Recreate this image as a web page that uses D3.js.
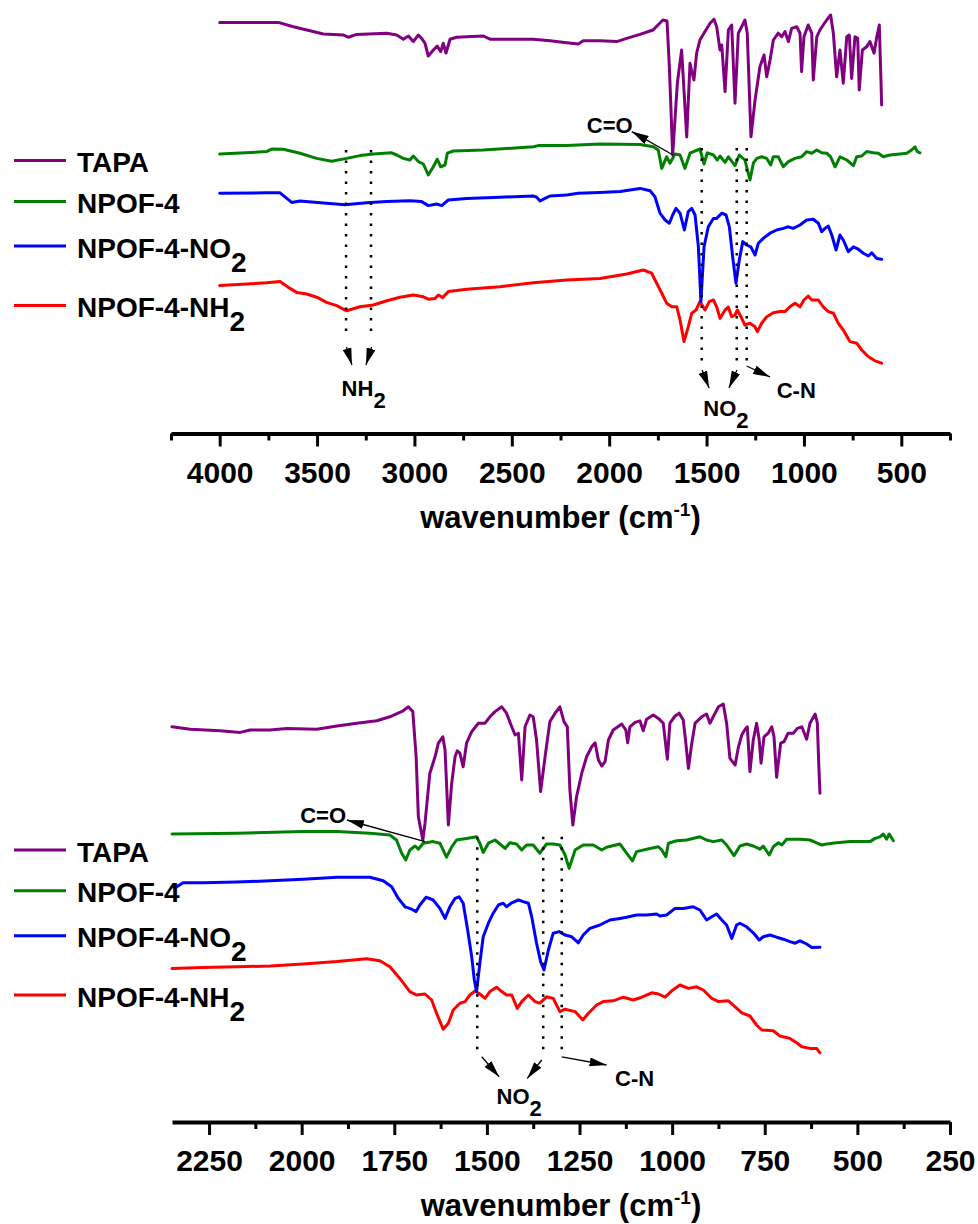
<!DOCTYPE html>
<html><head><meta charset="utf-8">
<script src="https://cdn.jsdelivr.net/npm/d3@7"></script>
<style>
body{margin:0;background:#fff}
svg text{font-family:"Liberation Sans",Arial,Helvetica,sans-serif;font-weight:bold;fill:#000}
</style>
</head><body>
<svg id="chart" width="978" height="1224"></svg>
<script>
// ---------- DATA ----------
const seriesNames = ["TAPA","NPOF-4","NPOF-4-NO","NPOF-4-NH"];
const seriesSubs  = ["","","2","2"];
const seriesColors = ["#800080","#008000","#0000ff","#ff0000"];

const topMajorTicks = [4000,3500,3000,2500,2000,1500,1000,500];
const topMinorTicks = [4250,3750,3250,2750,2250,1750,1250,750,250];
const botMajorTicks = [2250,2000,1750,1500,1250,1000,750,500,250];
const botMinorTicks = [2125,1875,1625,1375,1125,875,625,375];

// [wavenumber (cm-1), transmittance (a.u., offset)]
const topTAPA = [[4000,94.4],[3699,94.4],[3622,93.3],[3536,92.3],[3468,91.5],[3365,91.25],[3340,90.7],[3296,91.4],[3142,91.7],[3091,91.25],[3057,90.2],[3031,91],[3006,89.6],[2980,91.25],[2963,90.4],[2946,89.2],[2929,86],[2903,87.5],[2883,88.5],[2865,87.1],[2852,89.2],[2838,86.75],[2817,90.2],[2783,90.7],[2732,90.8],[2646,91],[2612,90.2],[2526,90.2],[2390,90.2],[2304,89.8],[2218,89.3],[2159,89],[2133,89.8],[2047,89.8],[1961,89.6],[1910,90.4],[1842,91.4],[1775,92.5],[1724,95],[1703,94.75],[1691,83.3],[1674,61.25],[1650,79.2],[1628,87.5],[1602,65.75],[1585,84.2],[1576,82.1],[1565,80],[1551,86.7],[1534,90],[1508,92.1],[1482,94.2],[1462,95.2],[1448,93.3],[1431,87.5],[1422,88.75],[1405,77.1],[1388,92.5],[1371,93.75],[1354,74.2],[1337,91.7],[1320,93.3],[1303,95],[1291,91.7],[1272,65.8],[1251,75],[1226,83.3],[1205,86.25],[1191,80.8],[1174,85],[1157,90],[1132,91.7],[1114,90.8],[1097,92.1],[1080,89.6],[1063,92.9],[1037,93.3],[1020,91.7],[1012,82.1],[1000,90.8],[978,93.75],[960,91.7],[952,80],[934,90.8],[918,92.5],[901,93.75],[883,95],[863,96.25],[849,91.7],[832,80.8],[815,87.5],[798,79.2],[780,90.8],[767,91.25],[755,80.4],[738,90.8],[724,90.4],[716,77.5],[700,87.5],[678,88.3],[661,89.6],[640,86.7],[626,90.8],[613,93.75],[605,80.8],[601,73.75]];
const topNPOF4 = [[4000,61.5],[3759,62.1],[3733,62.75],[3673,62.7],[3588,61.7],[3502,60.4],[3425,59.7],[3348,60.4],[3280,61.1],[3211,61.5],[3117,61.8],[3091,61.25],[3057,60.4],[3023,60],[3006,61],[2980,59.6],[2954,59],[2929,56.25],[2903,58.3],[2883,60.2],[2865,58.3],[2843,58.75],[2831,61.7],[2800,62.25],[2646,62.5],[2390,63.3],[2364,63.6],[2218,63.6],[2047,64],[1842,63.9],[1773,63.3],[1748,62.5],[1730,57.9],[1705,60.8],[1688,59.2],[1662,61.5],[1636,61.25],[1611,57.9],[1585,61.7],[1534,62.75],[1513,59],[1496,61.8],[1465,61.25],[1445,60],[1431,61],[1405,59.4],[1388,60.8],[1354,58.6],[1332,61.25],[1303,60],[1277,55],[1260,59.2],[1242,60.4],[1217,60.8],[1191,60.4],[1171,58.75],[1157,60.8],[1132,60.8],[1106,58.3],[1080,59.6],[1046,60.4],[1012,60.8],[986,62.1],[960,61.7],[934,62.5],[909,61.8],[883,61.7],[863,60.8],[840,58.3],[815,60.8],[780,60],[746,58.6],[729,60.8],[703,61],[678,62.1],[644,61.8],[618,61.7],[592,60.8],[558,61.25],[507,61.5],[472,61.7],[447,62.5],[430,63.3],[418,62.1],[404,61.8]];
const topNO2 = [[4000,51.7],[3759,51.8],[3690,51.8],[3665,50.8],[3630,49.4],[3588,49.75],[3451,49.2],[3357,48.8],[3245,49.3],[3142,49.6],[3023,49.8],[2963,49.6],[2929,48.6],[2886,49],[2860,48.6],[2826,50],[2732,50.4],[2561,50.7],[2390,51],[2372,50.7],[2355,49.75],[2330,50.4],[2304,51],[2218,51.25],[2159,51.7],[2047,51.9],[1944,52.1],[1842,52.9],[1790,52.3],[1765,50.8],[1739,46.7],[1713,45],[1691,44.2],[1674,46.25],[1657,47.9],[1636,46.7],[1614,42.5],[1594,47.1],[1576,47.9],[1559,46.25],[1542,38.3],[1529,24.6],[1513,38.3],[1491,43.3],[1465,45.4],[1448,45.4],[1422,46.7],[1400,46.25],[1383,43.3],[1366,35.8],[1349,29.2],[1332,35],[1314,39.6],[1294,38.75],[1273,38.3],[1251,36.25],[1234,39.2],[1209,40.4],[1174,41.7],[1140,42.5],[1106,42.9],[1080,43.3],[1055,42.9],[1020,43.75],[986,45],[952,45.2],[926,44.2],[909,42.1],[892,42.9],[875,43.5],[857,41.25],[835,37.5],[815,41.25],[798,40],[772,37.1],[746,38.3],[721,37.7],[695,36.7],[669,36],[652,36.8],[626,35.4],[601,35.2]];
const topNH2 = [[4000,28.6],[3759,29.3],[3690,29.6],[3639,27.9],[3605,26.9],[3553,26.5],[3502,25.7],[3451,24.4],[3399,23.6],[3348,22.3],[3280,23.3],[3211,23.75],[3142,24.8],[3074,25.7],[3006,26.25],[2954,25.8],[2929,25.2],[2894,25.4],[2877,26.25],[2855,25.6],[2826,27.1],[2732,27.7],[2561,28.3],[2390,29.3],[2218,30],[2047,30.4],[1910,31.5],[1825,32.5],[1782,31.7],[1756,29.2],[1730,26.7],[1705,24.2],[1679,23.3],[1653,23.3],[1636,20],[1616,14.6],[1594,18.3],[1576,21.7],[1554,22.5],[1534,24.6],[1508,22.5],[1486,24.6],[1465,25],[1448,23.3],[1431,20.4],[1405,22.5],[1388,23.2],[1371,20.8],[1354,21.25],[1342,22.5],[1328,21.25],[1303,18.75],[1277,19.2],[1251,18.3],[1239,17.1],[1217,19.2],[1191,20.8],[1157,21.8],[1123,22.1],[1097,22.1],[1072,23.3],[1046,24.2],[1020,23.3],[1000,25],[978,26],[960,25],[926,25],[901,23.3],[875,22.1],[849,21.7],[824,19.2],[798,17.5],[764,14.6],[729,14.2],[703,12.5],[669,10.8],[635,9.8],[601,9.2]];

const botTAPA = [[2350,90.8],[2301,90.2],[2220,89.8],[2166,89.4],[2139,90],[2085,90],[2040,90.4],[1959,90.2],[1905,91],[1851,91.7],[1797,92.3],[1762,93.3],[1726,94.8],[1712,95.8],[1700,94.6],[1691,83.3],[1685,68.3],[1673,62.5],[1667,66.7],[1654,79.2],[1640,83.3],[1631,86.7],[1619,88.3],[1613,85],[1604,66.25],[1595,76.7],[1586,83.3],[1580,84.8],[1573,84.2],[1564,80.8],[1555,86.7],[1541,89.6],[1523,91.7],[1505,91.7],[1492,93.3],[1478,94.6],[1460,95.8],[1447,94.2],[1433,90.8],[1424,88.75],[1415,89.2],[1406,77.5],[1397,90.8],[1384,93.75],[1375,93.3],[1366,87.5],[1355,74.6],[1343,83.3],[1330,92.1],[1316,94.2],[1303,95.8],[1292,92.1],[1283,90.8],[1276,75],[1268,66.25],[1258,73.3],[1244,79.2],[1231,83.3],[1217,85.8],[1208,86.8],[1199,82.5],[1190,81],[1181,82.1],[1172,87.5],[1159,90],[1136,91.5],[1125,90],[1120,86.8],[1114,90.8],[1100,91.9],[1087,92.3],[1078,89.8],[1069,92.7],[1051,93.75],[1037,92.9],[1024,91.7],[1013,82.7],[1006,91.7],[992,93.5],[981,94.2],[970,92.5],[963,86.7],[956,80.4],[947,86.7],[938,91.7],[920,93.3],[907,94],[898,91.7],[889,93.3],[875,95.8],[862,96.5],[853,91.7],[844,82.9],[830,81.25],[821,85.8],[812,88.75],[803,90.2],[797,90.8],[790,79.6],[781,87.5],[772,91.7],[765,87.5],[760,81.7],[752,88.3],[740,89.3],[731,90.8],[725,88.3],[718,78.2],[707,86.7],[698,87.1],[687,89.2],[673,89.2],[662,90.4],[650,90.8],[637,87.7],[628,91.7],[614,94],[608,91.7],[604,80.8],[601,74.2]];
const botNPOF4 = [[2350,64],[2175,64.2],[1996,64.6],[1905,64.6],[1816,64.2],[1762,63.75],[1744,62.5],[1730,59.2],[1719,57.5],[1708,60],[1694,61],[1685,60.2],[1672,61.7],[1645,62.1],[1627,61.7],[1609,58.2],[1595,60.8],[1582,62.5],[1555,62.9],[1528,63.3],[1519,61.7],[1510,59.4],[1496,61.7],[1478,62.5],[1465,61.5],[1451,60.4],[1438,61.8],[1420,61.5],[1406,60],[1393,61.25],[1375,61.25],[1357,59.2],[1339,61.5],[1321,61.5],[1303,61.25],[1289,58.75],[1278,55.4],[1262,60],[1240,61.25],[1213,61.25],[1190,60],[1177,60.7],[1141,61.5],[1123,59.2],[1107,57.3],[1096,59.6],[1069,60.2],[1037,60.8],[1028,60],[1017,58.3],[1010,61.7],[988,62.3],[961,62.5],[925,63.3],[907,62.5],[889,62.1],[866,62.5],[853,61.25],[833,58.6],[817,61],[799,61.5],[781,61],[763,60.2],[754,61],[738,58.75],[727,60.8],[713,61.8],[704,61.25],[691,62.7],[655,62.7],[628,62.5],[610,61.8],[596,61.25],[583,61.5],[556,61.8],[520,62.1],[466,62.1],[452,62.9],[439,63.3],[430,64],[421,62.7],[414,64],[403,62.3]];
const botNO2 = [[2350,50.8],[2337,50.8],[2320,51.8],[2266,51.8],[2175,52],[2085,52.3],[1996,52.7],[1905,53.2],[1816,53.2],[1780,52.3],[1757,50.8],[1739,47.9],[1721,45.8],[1703,45.2],[1691,44.6],[1681,46.25],[1664,48.2],[1645,47.5],[1627,45.4],[1613,42.9],[1600,45.8],[1586,47.9],[1575,48.3],[1564,46.7],[1552,40],[1541,33.3],[1534,27.5],[1528,24.6],[1519,31.7],[1510,38.3],[1496,41.7],[1483,44.2],[1469,46.25],[1456,46.7],[1447,45.8],[1433,46.8],[1415,47.5],[1402,47.1],[1388,46.7],[1379,43.3],[1366,36.7],[1355,32.1],[1346,30],[1334,35],[1321,39.2],[1305,39.6],[1289,38.75],[1271,38.3],[1253,36.8],[1240,38.75],[1222,40.4],[1195,41.25],[1168,42.5],[1141,42.9],[1123,43.2],[1096,43.75],[1069,43.75],[1042,44],[1033,43.5],[1015,43.75],[992,45.4],[970,45.4],[943,45.8],[925,45],[907,42.5],[893,43.3],[880,44],[866,42.5],[853,41.25],[839,37.9],[826,41.25],[817,41.7],[799,40.8],[781,39.3],[765,37.5],[754,38.3],[736,38.75],[718,38.2],[700,37.7],[682,37.1],[668,36.7],[655,37.3],[637,36.5],[623,35.6],[601,35.7]];
const botNH2 = [[2350,30.4],[2266,30.6],[2175,30.8],[2085,31],[1996,31.5],[1905,32.1],[1825,32.8],[1789,32.3],[1762,30.8],[1735,27.9],[1708,24.6],[1690,23.75],[1667,24],[1649,22.5],[1636,19.2],[1618,15.2],[1604,16.7],[1591,20],[1573,21.7],[1559,22.1],[1546,23.75],[1532,24.75],[1519,24],[1505,22.9],[1492,24.6],[1474,25.7],[1460,24.6],[1447,23.75],[1433,23.75],[1418,20.4],[1406,22.1],[1388,23.75],[1370,22.1],[1357,21.7],[1339,23.3],[1321,22.9],[1303,19.6],[1289,20.2],[1262,19.6],[1241,17.5],[1226,19.2],[1204,21.25],[1186,22.1],[1159,22.3],[1132,23.2],[1105,22.5],[1082,23.2],[1055,24.3],[1037,24],[1019,23.2],[1001,24.8],[979,26.25],[956,25.4],[934,25.8],[916,25],[893,22.9],[875,22.1],[848,22.3],[830,20.8],[812,19.3],[790,18.5],[772,16.25],[758,15],[727,14.8],[709,13.5],[682,12.9],[664,11.8],[650,10.8],[628,10.4],[610,10.4],[601,9.3]];

// guide (dotted) lines: [wavenumber, from value, to value]
const topGuides = [[3351,62.5,15.75],[3223,62.5,15.75],[1525,63,8.5],[1345,63,8.5],[1294,63,8.5]];
const botGuides = [[1526,63.3,8.75],[1348,63.3,8.75],[1298,63.3,8.75]];
// arrows: [w0, v0, w1, v1]  (points to w1,v1)
const topArrows = [[3349,13.25,3321,8.75],[3220,13.25,3249,8.75],[1523,7.5,1487,3],[1344,7.5,1385,3],[1294,8.5,1174,5.75],[1672,61.25,1884,67.1]];
const botArrows = [[1514,8.3,1467,3.3],[1352,7.5,1391,2.9],[1298,8.3,1177,6.25],[1667,62.1,1878,67.5]];
// labels: [text, subscript, wavenumber (start), value (baseline)]
const topLabels = [["NH","2",3374,1],["NO","2",1517,-4],["C-N","",1140,0.5],["C=O","",2115,66.7]];
const botLabels = [["NO","2",1474,-3.5],["C-N","",1154,1],["C=O","",2004,66.75]];

// ---------- DRAW ----------
const svg = d3.select("#chart");
const defs = svg.append("defs");
defs.append("marker").attr("id","ah").attr("markerUnits","userSpaceOnUse")
  .attr("viewBox","0 0 17 9").attr("refX",17).attr("refY",4.5)
  .attr("markerWidth",17).attr("markerHeight",9).attr("orient","auto")
  .append("path").attr("d","M0,0L17,4.5L0,9Z").attr("fill","#000");

const panels = [
  {x:d3.scaleLinear().domain([4250,250]).range([171,950]),
   y:d3.scaleLinear().domain([0,100]).range([400,0]),
   axisY:433.5, major:topMajorTicks, minor:topMinorTicks,
   data:[topTAPA,topNPOF4,topNO2,topNH2], guides:topGuides, arrows:topArrows, labels:topLabels,
   legendY:[160.5,201.5,246,305.5]},
  {x:d3.scaleLinear().domain([2350,250]).range([172,950]),
   y:d3.scaleLinear().domain([0,100]).range([1090,690]),
   axisY:1122, major:botMajorTicks, minor:botMinorTicks,
   data:[botTAPA,botNPOF4,botNO2,botNH2], guides:botGuides, arrows:botArrows, labels:botLabels,
   legendY:[850,890.7,935.7,995]}
];

panels.forEach(p => {
  const line = d3.line().x(d=>p.x(d[0])).y(d=>p.y(d[1])).curve(d3.curveLinear);
  // draw in reverse so TAPA sits on top
  for (let i = p.data.length-1; i >= 0; i--) {
    svg.append("path").datum(p.data[i]).attr("d", line)
      .attr("fill","none").attr("stroke", seriesColors[i])
      .attr("stroke-width",3).attr("stroke-linejoin","round").attr("stroke-linecap","round");
  }
  // guides
  svg.append("g").selectAll("line").data(p.guides).join("line")
    .attr("x1",d=>p.x(d[0])).attr("x2",d=>p.x(d[0]))
    .attr("y1",d=>p.y(d[1])).attr("y2",d=>p.y(d[2]))
    .attr("stroke","#000").attr("stroke-width",2.5).attr("stroke-dasharray","2.5,8");
  // arrows
  svg.append("g").selectAll("line").data(p.arrows).join("line")
    .attr("x1",d=>p.x(d[0])).attr("y1",d=>p.y(d[1]))
    .attr("x2",d=>p.x(d[2])).attr("y2",d=>p.y(d[3]))
    .attr("stroke","#000").attr("stroke-width",1.3).attr("marker-end","url(#ah)");
  // labels
  p.labels.forEach(l => {
    const t = svg.append("text").attr("x",p.x(l[2])).attr("y",p.y(l[3])).style("font-size","22px");
    t.append("tspan").text(l[0]);
    if (l[1]) t.append("tspan").attr("dy",12).text(l[1]);
  });
  // axis
  const ga = svg.append("g").attr("transform",`translate(0,${p.axisY})`);
  ga.call(d3.axisBottom(p.x).tickValues(p.minor).tickSize(7).tickSizeOuter(0).tickFormat(""));
  ga.select(".domain").remove();
  ga.selectAll(".tick line").attr("stroke","#000").attr("stroke-width",3);
  const gb = svg.append("g").attr("transform",`translate(0,${p.axisY})`);
  gb.call(d3.axisBottom(p.x).tickValues(p.major).tickSize(13).tickSizeOuter(0).tickFormat(d3.format("d")));
  gb.select(".domain").attr("stroke","#000").attr("stroke-width",4);
  gb.selectAll(".tick line").attr("stroke","#000").attr("stroke-width",3);
  gb.selectAll(".tick text").attr("y",49).attr("dy",0).style("font-size","30px");
  // title
  const xm = (p.x.range()[0]+p.x.range()[1])/2;
  const tt = svg.append("text").attr("x",xm).attr("y",p.axisY+94).attr("text-anchor","middle").style("font-size","31px");
  tt.append("tspan").text("wavenumber (cm");
  tt.append("tspan").attr("dy",-12).style("font-size","19px").text("-1");
  tt.append("tspan").attr("dy",12).text(")");
  // legend
  seriesNames.forEach((n,i) => {
    const ly = p.legendY[i];
    svg.append("line").attr("x1",14).attr("x2",66).attr("y1",ly).attr("y2",ly)
      .attr("stroke",seriesColors[i]).attr("stroke-width",3);
    const t = svg.append("text").attr("x",77).attr("y",ly+11.5).style("font-size","28px");
    t.append("tspan").text(n);
    if (seriesSubs[i]) t.append("tspan").attr("dy",14).text(seriesSubs[i]);
  });
});
</script>
</body></html>
